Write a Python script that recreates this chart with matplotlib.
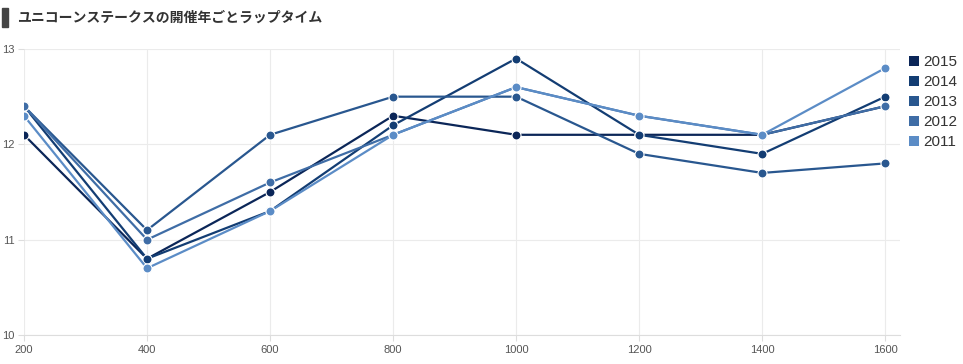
import matplotlib
matplotlib.use('Agg')

import matplotlib.pyplot as plt
from matplotlib.patches import Rectangle, Patch

# Lap distance (m) and lap times (s) per year
distances = [200, 400, 600, 800, 1000, 1200, 1400, 1600]
laps_2015 = [12.1, 10.8, 11.5, 12.3, 12.1, 12.1, 12.1, 12.4]
laps_2014 = [12.4, 10.8, 11.3, 12.2, 12.9, 12.1, 11.9, 12.5]
laps_2013 = [12.4, 11.1, 12.1, 12.5, 12.5, 11.9, 11.7, 11.8]
laps_2012 = [12.4, 11.0, 11.6, 12.1, 12.6, 12.3, 12.1, 12.4]
laps_2011 = [12.3, 10.7, 11.3, 12.1, 12.6, 12.3, 12.1, 12.8]
years = ["2015", "2014", "2013", "2012", "2011"]
title = "ユニコーンステークスの開催年ごとラップタイム"

series = [laps_2015, laps_2014, laps_2013, laps_2012, laps_2011]
colors = ["#0b2658", "#133d73", "#29578f", "#3f6da6", "#5b8cc6"]

plt.rcParams['font.family'] = ['Liberation Sans', 'DejaVu Sans']

fig = plt.figure(figsize=(9.63, 3.64), dpi=100)
W, H = 963.0, 364.0

# Title with a vertical bar on the left
fig.patches.append(Rectangle((2 / W, 1 - 27 / H), 6 / W, 19 / H,
                             transform=fig.transFigure, color="#444444"))
fig.text(17 / W, 1 - 17.5 / H, title, family=['Noto Sans CJK JP', 'DejaVu Sans'],
         fontsize=10, fontweight='bold', color="#333333", va='center', ha='left')

ax = fig.add_axes([24 / W, 29 / H, 876 / W, 286 / H])

for vals, c, year in zip(series, colors, years):
    ax.plot(distances, vals, color=c, linewidth=1.6, marker='o', markersize=6.5,
            markeredgecolor='white', markeredgewidth=0.8, label=year, zorder=3)

ax.set_xlim(200, 1624)
ax.set_ylim(10, 13)
ax.set_xticks(distances)
ax.set_yticks([10, 11, 12, 13])
ax.grid(True, color="#ebebeb", linewidth=0.8, zorder=0)
ax.set_axisbelow(True)

for side in ["top", "right", "left"]:
    ax.spines[side].set_visible(False)
ax.spines["bottom"].set_color("#dddddd")
ax.tick_params(axis='both', colors="#dddddd", labelcolor="#555555",
               labelsize=8, length=4, width=0.8)
ax.tick_params(axis='y', pad=3)

handles = [Patch(facecolor=c, edgecolor='none', label=y) for c, y in zip(colors, years)]
fig.legend(handles=handles, loc='upper left', bbox_to_anchor=(909 / W, 1 - 55 / H),
           frameon=False, fontsize=11, handlelength=0.65, handleheight=0.65,
           handletextpad=0.3, labelspacing=0.4, borderpad=0, borderaxespad=0,
           labelcolor="#333333")

plt.savefig("out.png", dpi=100)
